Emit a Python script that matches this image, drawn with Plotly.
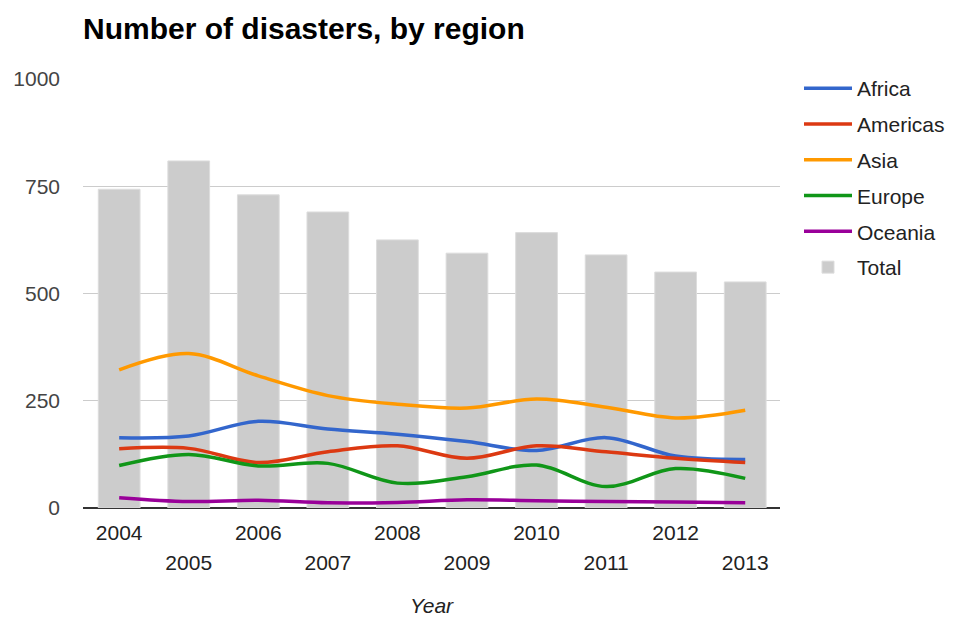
import plotly.graph_objects as go

years = [2004, 2005, 2006, 2007, 2008, 2009, 2010, 2011, 2012, 2013]
total = [743, 809, 730, 690, 625, 594, 642, 590, 550, 527]
africa = [164, 168, 202, 184, 172, 155, 134, 164, 121, 113]
americas = [138, 139, 106, 131, 145, 116, 145, 131, 116, 106]
asia = [322, 360, 308, 262, 242, 233, 254, 235, 210, 228]
europe = [99, 125, 98, 104, 58, 73, 100, 50, 92, 69]
oceania = [24, 15, 18, 12, 13, 19, 17, 15, 14, 12]

series = [
    ("Africa", africa, "#3366cc"),
    ("Americas", americas, "#dc3912"),
    ("Asia", asia, "#ff9900"),
    ("Europe", europe, "#109618"),
    ("Oceania", oceania, "#990099"),
]

font_family = "Liberation Sans, Arial, sans-serif"

fig = go.Figure()
for name, vals, color in series:
    fig.add_trace(go.Scatter(
        x=years, y=vals, name=name, mode="lines", legendgroup=name,
        line=dict(color=color, width=3.5, shape="spline", smoothing=1),
    ))
fig.add_trace(go.Bar(
    x=years, y=total, name="Total", legendgroup="Total",
    marker=dict(color="#cccccc", line=dict(color="#dddddd", width=1)),
    width=0.6,
))

even_years = [y for y in years if y % 2 == 0]
odd_years = [y for y in years if y % 2 == 1]

W, H = 946, 609

fig.update_layout(
    width=W, height=H,
    margin=dict(l=75, r=174, t=71, b=109),
    paper_bgcolor="white", plot_bgcolor="white",
    font=dict(family=font_family, size=21, color="#222222"),
    title=dict(
        text="<b>Number of disasters, by region</b>",
        x=0, xref="paper", xanchor="left",
        y=1 - 20 / H, yref="container", yanchor="middle",
        font=dict(size=30, color="#000000", family=font_family),
    ),
    showlegend=True,
    legend=dict(
        xref="container", yref="container",
        x=791 / W, xanchor="left", y=1 - 60 / H, yanchor="top",
        font=dict(size=21, color="#222222"),
        traceorder="grouped", itemwidth=48, tracegroupgap=5.5,
        bgcolor="rgba(0,0,0,0)",
    ),
    xaxis=dict(
        range=[2003.48, 2013.5], automargin=False,
        tickvals=even_years, ticktext=[str(y) for y in even_years],
        showgrid=False, zeroline=False, showline=False,
        ticks="", ticklabelstandoff=10,
        tickfont=dict(size=21, color="#222222"),
        title=dict(text="<i>Year</i>", standoff=56,
                   font=dict(size=21, color="#222222")),
    ),
    xaxis2=dict(
        overlaying="x", matches="x", anchor="y", side="bottom",
        range=[2003.48, 2013.5], automargin=False,
        tickvals=odd_years, ticktext=[str(y) for y in odd_years],
        showgrid=False, zeroline=False, showline=False,
        ticks="", ticklabelstandoff=40,
        tickfont=dict(size=21, color="#222222"),
    ),
    yaxis=dict(
        range=[0, 1000], automargin=False,
        tickvals=[0, 250, 500, 750, 1000],
        showgrid=True, gridcolor="#cccccc", gridwidth=1,
        zeroline=True, zerolinecolor="#333333", zerolinewidth=2,
        showline=False, ticks="", ticklabelstandoff=22,
        tickfont=dict(size=21, color="#444444"),
    ),
    bargap=0.4,
)

# invisible trace to activate the second (odd-year label) x axis
fig.add_trace(go.Scatter(x=[years[0]], y=[None], xaxis="x2", showlegend=False,
                         hoverinfo="skip", mode="markers",
                         marker=dict(opacity=0)))

fig.write_html("out.html")
